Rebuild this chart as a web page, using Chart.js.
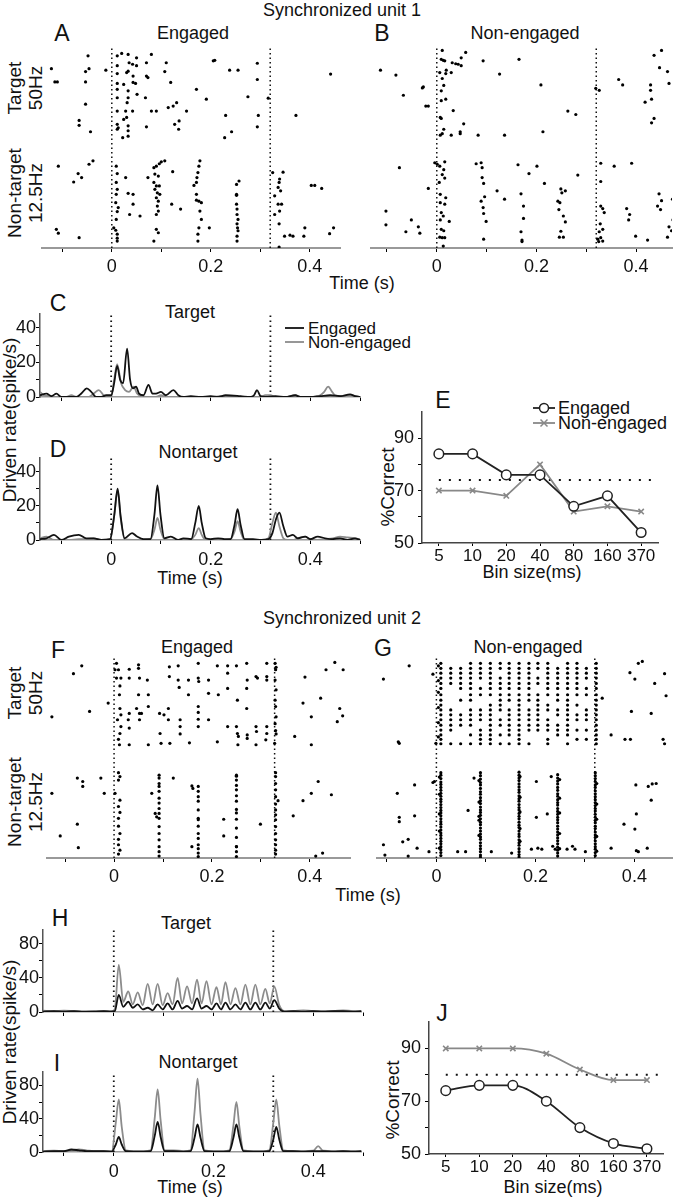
<!DOCTYPE html>
<html>
<head>
<meta charset="utf-8">
<script src="https://cdn.jsdelivr.net/npm/chart.js@4.4.1/dist/chart.umd.min.js"></script>
<style>
  body { margin: 0; background: #fff; width: 676px; height: 1199px; position: relative; overflow: hidden;
         font-family: "Liberation Sans", Arial, Helvetica, sans-serif; color: #111; }
  canvas { position: absolute; }
  .t { position: absolute; transform: translate(-50%, -50%); white-space: nowrap; font-size: 18px; }
  .l { position: absolute; transform: translateY(-50%); white-space: nowrap; font-size: 18px; }
  .lg { position: absolute; transform: translateY(-50%); white-space: nowrap; font-size: 17px; line-height: 17px; }
  .p { position: absolute; transform: translate(-50%, -50%); font-size: 23px; }
  .r { position: absolute; transform: translate(-50%, -50%) rotate(-90deg); white-space: nowrap; font-size: 19px; text-align: center; line-height: 21px; }
</style>
</head>
<body>

<div class="t" style="left:342px;top:10px">Synchronized unit 1</div>
<div class="p" style="left:62px;top:33px">A</div>
<div class="t" style="left:193px;top:33px">Engaged</div>
<div class="p" style="left:382px;top:33px">B</div>
<div class="t" style="left:525px;top:33px">Non-engaged</div>
<div class="r" style="left:25px;top:88px">Target<br>50Hz</div>
<div class="r" style="left:25px;top:193px">Non-target<br>12.5Hz</div>
<div class="t" style="left:362px;top:283px">Time (s)</div>
<canvas id="rA" width="345" height="275" style="left:0;top:0"></canvas>
<canvas id="rB" width="331" height="275" style="left:345px;top:0"></canvas>

<div class="p" style="left:58px;top:303px">C</div>
<div class="t" style="left:190px;top:312px">Target</div>
<svg style="position:absolute;left:283px;top:321px" width="24" height="30">
  <line x1="2" y1="7" x2="21" y2="7" stroke="#111" stroke-width="1.8"/>
  <line x1="2" y1="21" x2="21" y2="21" stroke="#8c8c8c" stroke-width="1.8"/>
</svg>
<div class="lg" style="left:308px;top:328px">Engaged</div>
<div class="lg" style="left:308px;top:342px">Non-engaged</div>
<div class="p" style="left:58px;top:449px">D</div>
<div class="t" style="left:198px;top:452px">Nontarget</div>
<div class="t" style="left:190px;top:578px">Time (s)</div>
<div class="r" style="left:9px;top:420px">Driven rate(spike/s)</div>
<canvas id="pC" width="365" height="109" style="left:0;top:300px"></canvas>
<canvas id="pD" width="365" height="125" style="left:0;top:445px"></canvas>

<div class="p" style="left:443px;top:400px">E</div>
<svg style="position:absolute;left:530px;top:400px" width="28" height="31">
  <line x1="3" y1="8" x2="25" y2="8" stroke="#222" stroke-width="1.8"/>
  <circle cx="14" cy="8" r="4.5" fill="#fff" stroke="#222" stroke-width="1.5"/>
  <line x1="3" y1="23" x2="25" y2="23" stroke="#888" stroke-width="1.8"/>
  <path d="M10.5 19.5 L17.5 26.5 M17.5 19.5 L10.5 26.5" stroke="#888" stroke-width="1.5"/>
</svg>
<div class="l" style="left:558px;top:408px">Engaged</div>
<div class="l" style="left:558px;top:423px">Non-engaged</div>
<div class="r" style="left:387px;top:487px">%Correct</div>
<div class="t" style="left:532px;top:572px">Bin size(ms)</div>
<canvas id="cE" width="300" height="175" style="left:370px;top:395px"></canvas>

<div class="t" style="left:342px;top:618px">Synchronized unit 2</div>
<div class="p" style="left:58px;top:650px">F</div>
<div class="t" style="left:197px;top:647px">Engaged</div>
<div class="p" style="left:383px;top:648px">G</div>
<div class="t" style="left:528px;top:647px">Non-engaged</div>
<div class="r" style="left:25px;top:693px">Target<br>50Hz</div>
<div class="r" style="left:25px;top:802px">Non-target<br>12.5Hz</div>
<div class="t" style="left:368px;top:895px">Time (s)</div>
<canvas id="rF" width="355" height="245" style="left:0;top:640px"></canvas>
<canvas id="rG" width="326" height="245" style="left:350px;top:640px"></canvas>

<div class="p" style="left:60px;top:918px">H</div>
<div class="t" style="left:186px;top:923px">Target</div>
<div class="p" style="left:57px;top:1063px">I</div>
<div class="t" style="left:198px;top:1062px">Nontarget</div>
<div class="t" style="left:190px;top:1187px">Time (s)</div>
<div class="r" style="left:9px;top:1042px">Driven rate(spike/s)</div>
<canvas id="pH" width="368" height="109" style="left:0;top:915px"></canvas>
<canvas id="pI" width="368" height="125" style="left:0;top:1058px"></canvas>

<div class="p" style="left:442px;top:1013px">J</div>
<div class="r" style="left:392px;top:1100px">%Correct</div>
<div class="t" style="left:553px;top:1187px">Bin size(ms)</div>
<canvas id="cJ" width="295" height="175" style="left:375px;top:1005px"></canvas>

<script>
// ---- data ----
// raster dots: [time (s), trial]; non-target trials 0-18, target trials 22-40
var rasterTicks = [-0.1, 0, 0.1, 0.2, 0.3, 0.4];
var timeLabels = [0, 0.2, 0.4];
var psthTicks = [-0.1, 0, 0.1, 0.2, 0.3, 0.4, 0.5];

var stimOffA = 0.32, stimOffB = 0.32, stimOffF = 0.328, stimOffG = 0.32;

var rasterA_target = [[-0.122,36.4],[-0.115,33.7],[-0.110,33.7],[-0.053,33.7],[-0.053,35.8],[-0.046,36.4],[-0.048,39.0],[-0.053,29.2],[-0.066,25.9],[-0.066,24.9],[-0.043,23.6],[-0.012,36.1],
  [0.011,39.0],[0.011,37.0],[0.011,35.4],[0.011,33.4],[0.011,32.2],[0.011,30.5],[0.011,27.8],[0.011,25.1],[0.011,24.1],[0.020,39.5],[0.022,22.4],[0.024,33.2],[0.024,26.1],[0.013,24.4],
  [0.033,39.3],[0.033,35.9],[0.030,35.6],[0.035,37.6],[0.033,31.9],[0.033,30.5],[0.031,29.5],[0.028,27.8],[0.030,26.5],[0.033,24.8],[0.033,23.8],[0.033,22.7],[0.042,37.3],[0.043,34.9],[0.043,33.6],[0.042,27.8],[0.050,38.6],[0.050,37.0],[0.051,31.2],[0.048,33.4],
  [0.070,37.6],[0.073,34.6],[0.070,34.9],[0.068,30.5],[0.070,24.6],[0.080,39.3],[0.080,27.8],[0.090,27.8],[0.110,37.6],[0.107,35.8],[0.119,33.6],[0.114,28.5],[0.124,28.8],[0.131,29.5],[0.127,25.1],[0.135,24.1],[0.136,25.8],[0.151,27.8],[0.171,32.2],[0.191,30.2],[0.205,38.0],[0.208,38.1],[0.230,26.9],[0.228,22.4],[0.238,36.1],[0.242,23.6],[0.255,36.1],[0.275,30.7],[0.294,37.5],[0.294,34.2],[0.296,26.9],[0.294,24.6],[0.316,30.4],[0.372,26.9],[0.442,35.3]];
var rasterA_non = [[-0.108,16.6],[-0.068,15.1],[-0.061,14.3],[-0.077,13.4],[-0.046,17.0],[-0.038,17.7],[-0.112,3.8],[-0.108,3.0],[-0.066,2.1],
  [0.009,16.6],[0.011,15.1],[0.009,13.3],[0.011,11.9],[0.009,10.9],[0.008,9.2],[0.013,8.2],[0.011,7.4],[0.009,5.8],[0.004,4.1],[0.008,3.6],[0.011,2.8],[0.011,2.0],[0.011,1.4],
  [0.028,14.3],[0.033,11.1],[0.043,10.9],[0.043,8.9],[0.036,6.8],[0.057,6.5],[0.073,14.3],
  [0.085,16.3],[0.090,16.6],[0.096,17.1],[0.100,17.5],[0.107,17.7],[0.087,15.0],[0.094,14.6],[0.085,13.3],[0.090,12.6],[0.096,12.6],[0.087,11.9],[0.092,11.2],[0.097,10.9],[0.090,10.2],[0.094,9.5],[0.092,8.5],[0.094,7.5],[0.090,6.8],[0.090,3.8],[0.094,3.1],[0.085,1.4],[0.123,15.5],[0.121,8.9],[0.139,7.9],
  [0.178,17.7],[0.176,16.6],[0.174,15.3],[0.172,14.3],[0.171,13.3],[0.166,12.7],[0.171,10.9],[0.171,9.7],[0.176,9.5],[0.181,9.2],[0.178,7.5],[0.181,5.8],[0.176,4.1],[0.174,2.8],[0.174,1.4],[0.197,4.1],
  [0.257,13.6],[0.252,12.9],[0.252,10.9],[0.252,10.7],[0.252,8.9],[0.253,7.9],[0.253,6.8],[0.255,5.8],[0.253,4.9],[0.254,4.1],[0.255,3.5],[0.253,2.4],[0.253,1.4],
  [0.325,15.3],[0.346,15.4],[0.339,14.0],[0.338,13.3],[0.336,12.3],[0.341,11.6],[0.329,10.6],[0.336,8.9],[0.343,8.9],[0.339,7.5],[0.329,6.8],[0.338,4.9],[0.349,2.4],[0.360,2.6],[0.366,2.4],[0.390,4.1],[0.388,2.4],[0.403,12.7],[0.410,12.7],[0.424,12.1],[0.440,2.9],[0.448,4.1],[0.338,0.2]];

var rasterB_target = [[-0.113,36.1],[-0.082,35.1],[-0.067,31.0],[-0.029,32.5],[-0.027,32.7],[-0.022,28.8],[-0.017,28.8],
  [0.011,40.1],[0.009,38.3],[0.013,38.1],[0.016,38.0],[0.006,35.6],[0.019,36.1],[0.018,35.4],[0.011,34.4],[0.014,33.0],[0.009,31.9],[0.018,30.2],[0.009,29.9],[0.007,26.5],[0.009,26.3],[0.014,24.1],[0.011,23.2],[0.007,22.9],
  [0.031,37.6],[0.038,37.4],[0.043,37.3],[0.049,37.0],[0.058,39.7],[0.049,38.6],[0.029,35.6],[0.033,27.9],[0.054,25.2],[0.029,22.9],[0.047,23.2],[0.047,23.6],[0.083,22.9],[0.093,38.0],[0.126,35.3],[0.136,22.9],[0.165,38.3],[0.209,33.1],[0.213,23.6],[0.263,27.8],[0.279,27.1],[0.319,32.4],[0.326,32.0],[0.365,34.2],[0.373,33.1],[0.418,29.6],[0.429,33.1],[0.429,32.0],[0.431,30.2],[0.436,26.3],[0.431,25.4],[0.436,39.1],[0.451,40.1],[0.447,36.6],[0.463,35.8],[0.466,33.4]];
var rasterB_non = [[-0.075,16.3],[-0.017,12.1],[-0.102,7.5],[-0.102,4.7],[-0.062,3.3],[-0.051,5.7],[-0.037,4.3],[-0.034,3.0],
  [-0.004,17.3],[0.001,17.0],[0.006,16.6],[0.016,17.5],[0.014,15.9],[0.011,14.9],[0.016,14.2],[0.005,13.3],[0.007,10.9],[0.018,10.2],[0.007,9.2],[0.016,8.9],[0.009,7.2],[0.013,6.5],[0.007,5.7],[0.025,5.4],[0.009,3.8],[0.014,3.5],[0.006,2.2],[0.011,2.1],[0.016,2.1],[0.013,0.4],
  [0.079,17.1],[0.089,17.3],[0.091,16.3],[0.091,14.3],[0.094,13.1],[0.096,10.4],[0.089,9.5],[0.093,8.2],[0.094,7.0],[0.099,5.4],[0.094,1.8],[0.121,11.6],[0.136,9.9],[0.163,16.9],[0.185,15.1],[0.201,16.6],[0.216,13.1],[0.169,11.0],[0.174,8.5],[0.174,6.0],[0.169,3.3],[0.171,1.6],[0.171,1.3],
  [0.249,12.0],[0.258,11.6],[0.251,11.2],[0.243,9.5],[0.247,9.2],[0.245,7.8],[0.254,6.5],[0.258,5.3],[0.249,3.4],[0.246,2.2],[0.254,2.2],[0.283,14.8],
  [0.329,17.2],[0.329,13.5],[0.329,8.5],[0.333,8.0],[0.336,7.2],[0.328,4.9],[0.333,3.8],[0.326,3.3],[0.323,1.8],[0.329,2.1],[0.325,1.3],[0.333,1.4],[0.356,16.6],[0.391,17.2],[0.381,8.0],[0.387,6.8],[0.385,5.7],[0.399,2.4],[0.423,1.6],[0.446,11.0],[0.451,9.6],[0.443,8.5],[0.449,7.8],[0.473,9.9],[0.474,5.7],[0.466,4.3],[0.471,3.5],[0.463,2.2]];

var rasterF_target = [[-0.066,39.2],[-0.083,37.6],[-0.127,28.8],[-0.050,29.9],[-0.012,31.6],
  [0.002,38.4],[0.009,38.4],[0.005,36.7],[0.014,36.7],[0.012,35.1],[0.011,33.3],[0.012,30.5],[0.014,29.2],[0.007,28.2],[0.014,26.8],[0.012,25.4],[0.009,24.2],[0.011,23.1],[0.005,39.7],
  [0.031,38.5],[0.031,36.7],[0.031,29.5],[0.029,28.2],[0.031,26.5],[0.031,23.1],
  [0.050,39.4],[0.050,38.7],[0.052,36.7],[0.050,33.3],[0.046,30.5],[0.052,29.5],[0.056,29.5],[0.052,28.2],[0.068,36.3],[0.070,33.3],[0.070,30.9],[0.070,23.1],
  [0.093,29.5],[0.094,25.4],[0.096,23.4],[0.102,29.2],[0.113,39.0],[0.113,37.0],[0.111,30.5],[0.111,28.2],[0.114,23.4],
  [0.131,39.2],[0.131,36.3],[0.133,34.8],[0.135,28.2],[0.135,26.8],[0.135,25.3],[0.152,36.3],[0.152,33.3],[0.154,23.5],
  [0.172,39.7],[0.172,36.7],[0.173,36.0],[0.172,30.9],[0.172,29.7],[0.172,28.3],[0.172,26.8],[0.193,36.3],[0.193,33.6],[0.193,28.2],
  [0.211,39.2],[0.213,33.3],[0.211,23.7],[0.232,39.2],[0.232,37.7],[0.232,34.6],[0.232,26.8],[0.250,39.2],[0.252,32.2],[0.250,26.8],[0.252,25.4],[0.254,24.8],[0.253,23.1],
  [0.271,39.7],[0.272,36.3],[0.271,34.6],[0.271,30.5],[0.272,25.1],[0.272,24.4],[0.290,37.0],[0.293,36.7],[0.290,26.8],[0.291,25.8],[0.290,23.1],[0.312,39.7],[0.312,37.0],[0.312,36.3],[0.312,26.8],[0.312,25.4],[0.310,24.1],
  [0.329,39.7],[0.331,38.9],[0.330,38.4],[0.329,36.3],[0.331,34.3],[0.329,32.2],[0.330,30.9],[0.331,28.8],[0.329,27.4],[0.330,26.0],[0.331,25.3],[0.328,23.4],
  [0.390,36.9],[0.386,31.6],[0.403,28.8],[0.403,23.1],[0.422,32.6],[0.433,38.4],[0.451,39.9],[0.468,38.4],[0.461,30.5],[0.467,29.0],[0.456,27.8],[0.369,24.8]];
var rasterF_nonCols = [
  [0.009, [17.4,15.9,10.5,8.1,6.5,3.8,2.7,0.8]],
  [0.012, [16.6,11.8,9.3,5.0,1.6]],
  [0.002, [13.2]],
  [0.092, [16.9,16.3,15.2,14.6,13.6,12.2,11.2,10.1,9.1,8.1,6.4,5.0,3.7,2.3,1.3,0.4]],
  [0.172, [14.6,13.6,12.5,11.6,9.8,8.1,7.8,6.5,5.0,4.0,2.7,1.9,1.0,0.3]],
  [0.250, [16.9,16.7,15.9,14.8,13.9,12.7,11.6,9.9,9.2,7.9,6.1,4.2,2.3,1.3,0.3]],
  [0.330, [17.4,16.6,15.2,13.9,12.5,11.0,9.8,8.8,7.8,6.4,5.0,3.7,2.7,1.6,0.8]],
  [0.335, [11.7]]
];
var rasterF_nonScatter = [[-0.075,16.3],[-0.064,15.6],[-0.064,14.6],[-0.127,13.2],[-0.027,16.3],[-0.020,13.2],[-0.075,6.9],[-0.110,4.5],[-0.073,2.1],
  [0.077,13.2],[0.084,9.1],[0.087,8.4],[0.121,16.3],[0.159,14.7],[0.161,14.2],[0.159,2.3],[0.224,7.9],[0.224,4.5],[0.250,2.3],[0.299,6.9],
  [0.366,8.6],[0.386,11.7],[0.403,13.2],[0.417,15.6],[0.444,12.9],[0.412,0.4],[0.426,1.0]];

var rasterG_targetCols = [
  [0.009, [39.7,38.7,37.7,36.7,35.6,34.6,33.3,32.2,31.2,30.2,29.2,28.2,27.1,26.1,25.1,24.2,23.3]],
  [0.004, [39.2,36.2,33.8,30.7,27.6,24.7]],
  [0.029, [38.7,37.7,36.7,35.6,30.2,29.2,28.2,27.1,26.1,23.3]],
  [0.049, [38.7,37.7,36.7,35.6,34.6,32.2,29.2,28.2,27.1,23.3]],
  [0.069, [39.7,38.7,37.7,36.7,35.6,34.6,33.3,32.2,30.2,29.2,28.2,27.1,25.1,23.3]],
  [0.089, [39.7,38.7,37.7,36.7,34.6,33.3,30.2,29.2,28.2,26.1,25.1,24.2,23.3]],
  [0.109, [39.7,38.7,37.7,36.7,35.6,34.6,33.3,31.2,30.2,29.2,28.2,27.1,26.1,25.1,24.2,23.3]],
  [0.129, [39.7,38.7,36.7,35.6,34.6,33.3,32.2,31.2,30.2,28.2,27.1,25.1,23.3]],
  [0.147, [39.7,38.7,37.7,36.7,35.6,34.6,33.3,32.2,30.2,29.2,28.2,27.1,26.1,25.1,23.3]],
  [0.167, [39.7,38.7,37.7,36.7,35.6,34.6,33.3,32.2,31.2,30.2,29.2,28.2,27.1,26.1,25.1,24.2,23.3]],
  [0.187, [39.7,38.7,37.7,36.7,35.6,34.6,33.3,32.2,30.2,29.2,28.2,27.1,26.1,23.3]],
  [0.205, [39.7,38.7,36.7,35.6,33.3,32.2,31.2,30.2,29.2,28.2,27.1,26.1]],
  [0.225, [39.7,38.7,37.7,36.7,35.6,34.6,33.3,31.2,30.2,28.2,27.1,26.1,24.2,23.3]],
  [0.245, [38.7,37.7,36.7,35.6,34.6,33.3,32.2,30.2,29.2,27.1,26.1,25.1]],
  [0.265, [39.7,38.7,37.7,36.7,35.6,34.6,33.3,32.2,31.2,30.2,29.2,28.2,27.1,26.1,25.1,23.3]],
  [0.284, [39.7,38.7,37.7,36.7,35.6,34.6,33.3,31.2,29.2,28.2,26.1,24.2]],
  [0.303, [38.7,37.7,36.7,34.6,33.3,30.2,29.2,28.2,26.1,24.2]],
  [0.323, [39.7,38.7,37.7,36.7,35.6,34.6,33.3,32.2,31.2,30.2,29.2,28.2,27.1,26.1,25.1,24.2,23.3]]
];
var rasterG_targetScatter = [[-0.107,36.5],[-0.055,39.2],[-0.007,37.5],[-0.001,23.4],[-0.077,23.7],[-0.075,23.4],[0.335,32.6],[0.353,25.1],[0.391,37.8],[0.401,36.5],[0.408,39.7],[0.416,40.1],[0.394,29.9],[0.381,24.2],[0.392,24.2],[0.434,29.5],[0.441,35.6],[0.464,33.1],[0.461,37.6],[0.458,24.2],[0.461,23.3]];
var rasterG_nonCols = [
  [0.009, [17.4,16.9,16.2,15.5,15.0,14.4,13.8,13.2,12.6,12.0,11.5,10.9,10.3,9.7,9.2,8.6,8.0,7.4,6.9,6.3,5.7,5.1,4.6,4.0,3.4,2.9,2.3,1.7,1.1,0.5]],
  [0.006, [16.5,13.0,9.0,5.5,2.0]],
  [0.089, [17.4,16.8,16.1,15.4,14.9,14.2,13.5,13.0,12.3,11.7,11.1,10.4,9.8,9.3,8.7,8.0,7.3,6.8,6.1,5.5,4.9,4.3,3.8,3.1,2.5,1.9,1.3,0.6,0.2]],
  [0.086, [15.8,11.4,8.5,7.7,4.6]],
  [0.167, [17.5,16.9,16.3,15.8,15.1,14.5,13.9,13.4,12.7,12.1,11.6,10.9,10.3,9.8,9.1,8.5,8.0,7.3,6.7,6.2,5.5,4.9,4.4,3.7,3.1,2.6,1.9,1.3,0.7,0.2]],
  [0.169, [16.6,12.4,9.4,6.0,3.4]],
  [0.245, [17.0,16.3,15.7,15.1,14.4,13.8,13.1,12.6,11.9,11.3,10.8,10.1,9.5,8.9,8.3,7.8,7.2,6.5,5.9,5.3,4.7,4.1,3.5,2.9,2.2,1.6,1.0,0.4]],
  [0.249, [16.0,12.2,9.2,5.0,1.9]],
  [0.321, [17.4,16.8,16.2,15.6,14.9,14.4,13.7,13.1,12.5,11.9,11.3,10.7,10.1,9.6,8.9,8.3,7.7,7.2,6.5,6.0,5.3,4.7,4.2,3.5,2.9,2.3,1.8,1.1,0.5]],
  [0.324, [15.2,11.0,7.9,4.4,1.4]]
];
var rasterG_nonScatter = [[-0.107,2.7],[-0.104,0.6],[-0.079,13.2],[-0.075,8.3],[-0.075,7.4],[-0.068,3.3],[-0.057,3.8],[-0.057,0.4],[-0.044,14.9],[-0.044,8.6],[-0.039,2.0],[-0.015,1.3],[-0.004,15.6],[-0.007,15.4],
  [0.043,1.3],[0.059,1.3],[0.064,9.7],[0.076,16.3],[0.111,1.3],[0.152,1.0],[0.192,1.8],[0.202,15.6],[0.202,8.3],[0.205,2.0],[0.213,1.8],[0.224,9.0],[0.232,16.6],[0.235,2.4],[0.240,1.8],[0.264,1.8],[0.275,2.4],[0.280,1.8],[0.301,1.3],
  [0.353,2.0],[0.379,6.9],[0.401,5.9],[0.404,9.0],[0.403,14.9],[0.428,14.6],[0.436,15.1],[0.444,15.2],[0.434,11.8],[0.426,2.0],[0.404,1.5],[0.408,1.3]];

// PSTH, unit 1 (spike/s)
var timesC = [-0.143,-0.13,-0.12,-0.11,-0.1,-0.09,-0.07,-0.06,-0.049,-0.04,-0.03,-0.02,-0.01,0.0,0.006,0.012,0.018,0.024,0.032,0.038,0.044,0.05,0.056,0.065,0.075,0.083,0.09,0.1,0.11,0.125,0.135,0.145,0.16,0.18,0.2,0.215,0.23,0.26,0.28,0.287,0.293,0.3,0.31,0.33,0.35,0.37,0.38,0.4,0.42,0.44,0.46,0.48,0.49,0.5];
var cEngaged = [1,2,0.5,2,0,0,0,2,5,3,0,0,1,1,8,18,10,8,28,10,5,6,2,1,7,2,2,3,1,4,1,0,0.5,0,0.5,0,1,0.5,0,1,4,0.5,0,0.5,0,1,0,0,0.5,1,0.5,1.5,0.5,0];
var timesC2 = [-0.143,-0.135,-0.125,-0.11,-0.09,-0.08,-0.07,-0.06,-0.045,-0.035,-0.025,-0.015,-0.005,0.0,0.006,0.012,0.02,0.028,0.036,0.045,0.052,0.06,0.07,0.09,0.1,0.11,0.13,0.16,0.2,0.22,0.25,0.3,0.31,0.32,0.33,0.35,0.37,0.38,0.4,0.42,0.428,0.436,0.444,0.45,0.46,0.48,0.5];
var cNonEngaged = [3,1,0.5,0,0,1,0,0,0,2,4,1,0,0,10,19,8,4,3,6,2,0.5,0,0,1,0,0,0,0,0.5,0,0,1,1,0,0,1,0,0,1,3,6,3,1,0.5,1,0];

var timesD = [-0.143,-0.13,-0.115,-0.1,-0.085,-0.065,-0.05,-0.035,-0.02,
  -0.002,0.006,0.013,0.019,0.027, 0.042,0.052,0.065, 0.079,0.087,0.093,0.099,0.107, 0.12,0.135,0.145,
  0.161,0.169,0.176,0.182,0.19, 0.2,0.215,0.228, 0.24,0.248,0.254,0.26,0.268, 0.285,0.302,
  0.316,0.324,0.331,0.338,0.346,0.354, 0.365,0.375,0.39,0.4,0.415,0.43,0.445,0.46,0.475,0.49,0.5];
var dEngaged = [0.5,1,3,0,2,3,1,1,0, 0.5,14,30,14,1, 4,2,0.5, 0.5,15,32,15,1, 2,0,1, 0.5,10,20,10,1, 0.5,1,0.5, 0.5,9,18,9,0.5, 0.5,0, 0.5,4,12,16,8,2, 3,1,2,0.5,2,1,0.5,1,0,1,0];
var dNonEngaged = [1,2,0,0,0,0.5,0.5,1,0, 0.5,14,29,13,0.5, 0,0,0, 0.5,6,13,6,0.5, 0,0,0, 0.5,3,7,3,0, 0,0,0, 0.5,5,11,5,0, 0,0, 1,10,16,8,1,0, 0,1,2,0.5,0,0.5,1,2,1.5,1,0.5];

// PSTH, unit 2 (spike/s)
var timesH = [-0.142,-0.12,-0.1,-0.08,-0.06,-0.04,-0.02,-0.005,0.002,
  0.010,0.019,0.029,0.038,0.048,0.058,0.068,0.078,0.088,0.098,0.108,0.118,0.128,0.137,0.147,0.157,0.167,0.176,0.186,0.196,0.206,0.215,0.224,0.234,0.244,0.254,0.264,0.274,0.284,0.294,0.304,0.313,0.322,
  0.332,0.342,0.36,0.38,0.4,0.42,0.44,0.46,0.48,0.497];
var hNonEngaged = [1.5,1,1.5,1,0.5,1,1,1,3,
  55,12,24,9,23,8,33,9,33,8,22,9,40,10,30,10,38,10,36,9,29,9,35,9,28,9,32,9,32,9,27,10,30,
  8,1,1,2,1,1,1,2,1,1];
var hEngaged = [0.5,1,0.5,1,0.5,0.5,1,0.5,1,
  20,6,12,5,9,3,5,2,9,3,10,3,13,4,7,3,16,4,7,3,10,3,11,3,9,3,11,3,11,3,11,4,14,
  4,0.5,1,0.5,1,0.5,1,1,0.5,1];

var timesI = [-0.142,-0.12,-0.1,-0.085,-0.07,-0.055,-0.04,-0.02,
  -0.004,0.004,0.010,0.016,0.024, 0.04,0.06, 0.074,0.082,0.088,0.094,0.102, 0.12,0.14,
  0.154,0.162,0.168,0.174,0.182, 0.2,0.22, 0.232,0.240,0.246,0.252,0.260, 0.28,0.30,
  0.312,0.320,0.326,0.332,0.340, 0.36,0.38,0.4,0.41,0.42,0.44,0.46,0.48,0.497];
var iNonEngaged = [1,1.5,1,2,3,2,1,1, 1,35,63,30,2, 1,1, 2,40,75,38,2, 2,1, 2,48,88,45,2, 1,1, 2,32,60,30,2, 1,1, 2,35,63,32,2, 1,1,1.5,7,1.5,1,1,1,1];
var iEngaged = [0.5,1,1,3,2,1,1,1, 0.5,9,18,9,1, 0.5,0.5, 1,19,36,18,1, 1,0.5, 1,17,33,17,1, 0.5,0.5, 1,17,33,17,1, 0.5,0.5, 1,15,30,15,1, 1,0.5,1,1,1,0.5,1,0.5,1];

var psthTicks1 = [0, 10, 20, 30, 40], psthLabels1 = [0, 20, 40];
var psthTicks2 = [0, 20, 40, 60, 80], psthLabels2 = [0, 40, 80];

// decoding (% correct)
var binSizes = ['5', '10', '20', '40', '80', '160', '370'];
var eEngaged = [84, 84, 76, 76, 64, 68, 54];
var eNonEngaged = [70, 70, 68, 80, 62, 64, 62];
var eChance = 74;
var jEngaged = [74, 76, 76, 70, 60, 54, 52];
var jNonEngaged = [90, 90, 90, 88, 82, 78, 78];
var jChance = 80;
var pctTicks = [50, 60, 70, 80, 90], pctLabels = [50, 70, 90];

// ---- drawing ----
Chart.defaults.font.family = '"Liberation Sans", Arial, Helvetica, sans-serif';
Chart.defaults.font.size = 18;
Chart.defaults.color = '#111';

function fixTicks(vals) {
  return function(axis) { axis.ticks = vals.map(function(v) { return {value: v}; }); };
}
function showOnly(vals) {
  return function(v) { return vals.indexOf(v) >= 0 ? String(v) : ''; };
}
function pts(pairs) {
  return pairs.map(function(p) { return {x: p[0], y: p[1]}; });
}
function cols(groups) {
  var out = [];
  groups.forEach(function(g) { g[1].forEach(function(tr) { out.push([g[0], tr]); }); });
  return out;
}
function xy(xs, ys) {
  return xs.map(function(x, i) { return {x: x, y: ys[i]}; });
}
function dotted(x0, y0, x1, y1, dash, w) {
  return {type: 'line', data: [{x: x0, y: y0}, {x: x1, y: y1}], borderColor: '#111', borderWidth: w || 1.5,
          borderDash: dash, pointRadius: 0, fill: false};
}
var base = {responsive: false, animation: false, devicePixelRatio: 1,
            plugins: {legend: {display: false}, tooltip: {enabled: false}}};

function raster(id, dots, xmin, xmax, off, pad) {
  new Chart(document.getElementById(id), {
    type: 'scatter',
    data: {datasets: [
      {data: pts(dots), pointRadius: 1.6, pointBackgroundColor: '#000', pointBorderWidth: 0},
      dotted(0, 0, 0, 41, [1.5, 3]),
      dotted(off, 0, off, 41, [1.5, 3])
    ]},
    options: Object.assign({}, base, {
      layout: {padding: pad},
      scales: {
        x: {type: 'linear', min: xmin, max: xmax,
            afterBuildTicks: fixTicks(rasterTicks),
            afterFit: function(a) { a.height = 27; },
            grid: {drawOnChartArea: false, tickLength: 4, color: '#000'},
            border: {color: '#999', width: 2},
            ticks: {callback: showOnly(timeLabels), padding: 4, maxRotation: 0, autoSkip: false}},
        y: {display: false, min: 0, max: 41}
      }
    })
  });
}

function psth(id, black, gray, ymax, yTicks, yLabels, xmin, xmax, off, pad, yw, xh, showX) {
  new Chart(document.getElementById(id), {
    type: 'line',
    data: {datasets: [
      {data: black, borderColor: '#111', borderWidth: 1.8, pointRadius: 0, cubicInterpolationMode: 'monotone'},
      {data: gray, borderColor: '#8c8c8c', borderWidth: 1.8, pointRadius: 0, cubicInterpolationMode: 'monotone'},
      dotted(0, 0, 0, ymax, [1.5, 3.5], 1.8),
      dotted(off, 0, off, ymax, [1.5, 3.5], 1.8)
    ]},
    options: Object.assign({}, base, {
      layout: {padding: pad},
      scales: {
        x: {type: 'linear', min: xmin, max: xmax,
            afterBuildTicks: fixTicks(psthTicks),
            afterFit: function(a) { a.height = xh; },
            grid: {drawOnChartArea: false, tickLength: 4, color: '#000'},
            border: {color: '#999', width: 1.5},
            ticks: {callback: showX ? showOnly(timeLabels) : function() { return ''; }, padding: 5, maxRotation: 0, autoSkip: false}},
        y: {min: 0, max: ymax,
            afterBuildTicks: fixTicks(yTicks),
            afterFit: function(a) { a.width = yw; },
            grid: {drawOnChartArea: false, tickLength: 4, color: '#000'},
            border: {color: '#555', width: 1.5},
            ticks: {callback: showOnly(yLabels), padding: 0, autoSkip: false}}
      }
    })
  });
}

function pct(id, eng, non, chance, smooth, pad, yw, xh) {
  var idx = binSizes.map(function(b, i) { return i; });
  var mode = smooth ? 'monotone' : 'default';
  new Chart(document.getElementById(id), {
    type: 'line',
    data: {datasets: [
      {data: xy(idx, eng), borderColor: '#222', borderWidth: 1.8, pointStyle: 'circle', pointRadius: 4.8,
       pointBorderColor: '#222', pointBackgroundColor: '#fff', pointBorderWidth: 1.5, cubicInterpolationMode: mode},
      {data: xy(idx, non), borderColor: '#888', borderWidth: 1.8, pointStyle: 'crossRot', pointRadius: 3.8,
       pointBorderColor: '#888', pointBorderWidth: 1.6, cubicInterpolationMode: mode},
      dotted(0, chance, 6.5, chance, [2, 8], 2)
    ]},
    options: Object.assign({}, base, {
      layout: {padding: pad},
      scales: {
        x: {type: 'linear', min: -0.5, max: 6.5,
            afterBuildTicks: fixTicks(idx),
            afterFit: function(a) { a.height = xh; },
            grid: {drawOnChartArea: false, tickLength: 3, color: '#000'},
            border: {color: '#444', width: 1.5},
            ticks: {callback: function(v) { return binSizes[v]; }, padding: 0, maxRotation: 0, autoSkip: false, font: {size: 17}}},
        y: {min: 50, max: 100,
            afterBuildTicks: fixTicks(pctTicks),
            afterFit: function(a) { a.width = yw; },
            grid: {drawOnChartArea: false, tickLength: 4, color: '#000'},
            border: {color: '#444', width: 1.5},
            ticks: {callback: showOnly(pctLabels), padding: 4, autoSkip: false}}
      }
    })
  });
}

raster('rA', rasterA_target.concat(rasterA_non), -0.141, 0.461, stimOffA, {left: 42, right: 5, top: 46, bottom: 0});
raster('rB', rasterB_target.concat(rasterB_non), -0.132, 0.472, stimOffB, {left: 26, right: 3, top: 46, bottom: 0});
psth('pC', xy(timesC, cEngaged), xy(timesC2, cNonEngaged), 48, psthTicks1, psthLabels1, -0.143, 0.5, 0.32,
     {left: 0, right: 5, top: 14, bottom: 4}, 40, 8, false);
psth('pD', xy(timesD, dEngaged), xy(timesD, dNonEngaged), 48, psthTicks1, psthLabels1, -0.143, 0.5, 0.32,
     {left: 0, right: 5, top: 13, bottom: 0}, 40, 30, true);
pct('cE', eEngaged, eNonEngaged, eChance, false, {left: 0, right: 12, top: 17, bottom: 0}, 52, 27);
raster('rF', rasterF_target.concat(cols(rasterF_nonCols), rasterF_nonScatter), -0.137, 0.482, stimOffF, {left: 47, right: 5, top: 17, bottom: 0});
raster('rG', cols(rasterG_targetCols).concat(rasterG_targetScatter, cols(rasterG_nonCols), rasterG_nonScatter), -0.12, 0.476, stimOffG, {left: 27, right: 0, top: 17, bottom: 0});
psth('pH', xy(timesH, hEngaged), xy(timesH, hNonEngaged), 96, psthTicks2, psthLabels2, -0.142, 0.497, 0.32,
     {left: 0, right: 5, top: 15, bottom: 4}, 43, 8, false);
psth('pI', xy(timesI, iEngaged), xy(timesI, iNonEngaged), 96, psthTicks2, psthLabels2, -0.142, 0.497, 0.32,
     {left: 0, right: 5, top: 14, bottom: 0}, 43, 31, true);
pct('cJ', jEngaged, jNonEngaged, jChance, true, {left: 0, right: 5, top: 17, bottom: 0}, 54, 26);
</script>
</body>
</html>
